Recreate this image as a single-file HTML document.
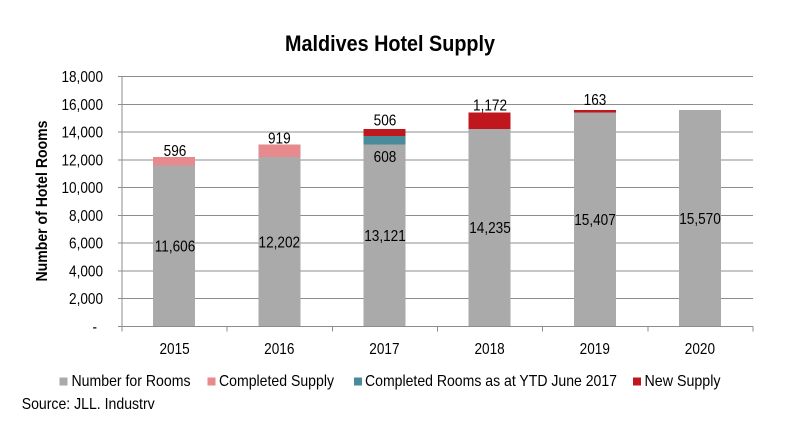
<!DOCTYPE html>
<html>
<head>
<meta charset="utf-8">
<style>
  html, body { margin: 0; padding: 0; background: #ffffff; }
  svg { display: block; }
  text { font-family: "Liberation Sans", Arial, sans-serif; fill: #000; }
</style>
</head>
<body>
<svg width="789" height="443" viewBox="0 0 789 443" xmlns="http://www.w3.org/2000/svg">
  <rect x="0" y="0" width="789" height="443" fill="#ffffff"/>

  <!-- Title -->
  <text x="390" y="51" font-size="22" font-weight="bold" text-anchor="middle" textLength="210" lengthAdjust="spacingAndGlyphs">Maldives Hotel Supply</text>

  <!-- Gridlines -->
  <g stroke="#8c8c8c" stroke-width="1" shape-rendering="crispEdges">
    <line x1="118" y1="76.5" x2="753" y2="76.5"/>
    <line x1="118" y1="104.3" x2="753" y2="104.3"/>
    <line x1="118" y1="132.1" x2="753" y2="132.1"/>
    <line x1="118" y1="159.8" x2="753" y2="159.8"/>
    <line x1="118" y1="187.6" x2="753" y2="187.6"/>
    <line x1="118" y1="215.4" x2="753" y2="215.4"/>
    <line x1="118" y1="243.2" x2="753" y2="243.2"/>
    <line x1="118" y1="270.9" x2="753" y2="270.9"/>
    <line x1="118" y1="298.7" x2="753" y2="298.7"/>
  </g>

  <!-- Bars -->
  <g shape-rendering="crispEdges">
    <!-- 2015 -->
    <rect x="153.1" y="165.3" width="42" height="161.2" fill="#aaaaaa"/>
    <rect x="153.1" y="157.0" width="42" height="8.3" fill="#e68a8e"/>
    <!-- 2016 -->
    <rect x="258.3" y="157.0" width="42" height="169.5" fill="#aaaaaa"/>
    <rect x="258.3" y="144.3" width="42" height="12.7" fill="#e68a8e"/>
    <!-- 2017 -->
    <rect x="363.4" y="144.3" width="42" height="182.2" fill="#aaaaaa"/>
    <rect x="363.4" y="135.8" width="42" height="8.5" fill="#4a8b9b"/>
    <rect x="363.4" y="128.8" width="42" height="7.0" fill="#c0171f"/>
    <!-- 2018 -->
    <rect x="468.6" y="128.8" width="42" height="197.7" fill="#aaaaaa"/>
    <rect x="468.6" y="112.5" width="42" height="16.3" fill="#c0171f"/>
    <!-- 2019 -->
    <rect x="573.8" y="112.5" width="42" height="214.0" fill="#aaaaaa"/>
    <rect x="573.8" y="110.2" width="42" height="2.3" fill="#c0171f"/>
    <!-- 2020 -->
    <rect x="678.9" y="110.2" width="42" height="216.3" fill="#aaaaaa"/>
  </g>

  <!-- Axes -->
  <g stroke="#8c8c8c" stroke-width="1" shape-rendering="crispEdges">
    <line x1="122" y1="76.5" x2="122" y2="326.5"/>
    <line x1="118" y1="326.5" x2="753" y2="326.5"/>
    <line x1="122" y1="326.5" x2="122" y2="331.5"/>
    <line x1="227.2" y1="326.5" x2="227.2" y2="331.5"/>
    <line x1="332.3" y1="326.5" x2="332.3" y2="331.5"/>
    <line x1="437.5" y1="326.5" x2="437.5" y2="331.5"/>
    <line x1="542.7" y1="326.5" x2="542.7" y2="331.5"/>
    <line x1="647.8" y1="326.5" x2="647.8" y2="331.5"/>
    <line x1="753" y1="326.5" x2="753" y2="331.5"/>
  </g>

  <!-- Y tick labels -->
  <g font-size="16" text-anchor="end">
    <text transform="translate(103,82) scale(0.85,1)">18,000</text>
    <text transform="translate(103,109.8) scale(0.85,1)">16,000</text>
    <text transform="translate(103,137.6) scale(0.85,1)">14,000</text>
    <text transform="translate(103,165.3) scale(0.85,1)">12,000</text>
    <text transform="translate(103,193.1) scale(0.85,1)">10,000</text>
    <text transform="translate(103,220.9) scale(0.85,1)">8,000</text>
    <text transform="translate(103,248.7) scale(0.85,1)">6,000</text>
    <text transform="translate(103,276.4) scale(0.85,1)">4,000</text>
    <text transform="translate(103,304.2) scale(0.85,1)">2,000</text>
    <text transform="translate(97,332) scale(0.85,1)">-</text>
  </g>

  <!-- Y axis title -->
  <text transform="translate(47,201) rotate(-90)" font-size="16" font-weight="bold" text-anchor="middle" textLength="161" lengthAdjust="spacingAndGlyphs">Number of Hotel Rooms</text>

  <!-- X tick labels -->
  <g font-size="16" text-anchor="middle">
    <text transform="translate(174.6,354) scale(0.85,1)">2015</text>
    <text transform="translate(279.3,354) scale(0.85,1)">2016</text>
    <text transform="translate(384.4,354) scale(0.85,1)">2017</text>
    <text transform="translate(489.6,354) scale(0.85,1)">2018</text>
    <text transform="translate(594.8,354) scale(0.85,1)">2019</text>
    <text transform="translate(699.9,354) scale(0.85,1)">2020</text>
  </g>

  <!-- Data labels -->
  <g font-size="16" text-anchor="middle" fill="#111">
    <text transform="translate(175,251.5) scale(0.85,1)">11,606</text>
    <text transform="translate(279.3,247.3) scale(0.85,1)">12,202</text>
    <text transform="translate(385,241) scale(0.85,1)">13,121</text>
    <text transform="translate(490,233.2) scale(0.85,1)">14,235</text>
    <text transform="translate(595,225) scale(0.85,1)">15,407</text>
    <text transform="translate(700,223.8) scale(0.85,1)">15,570</text>

    <text transform="translate(175,156) scale(0.85,1)">596</text>
    <text transform="translate(279.3,143.3) scale(0.85,1)">919</text>
    <text transform="translate(385,125.5) scale(0.85,1)">506</text>
    <text transform="translate(385,162) scale(0.85,1)">608</text>
    <text transform="translate(490,110.5) scale(0.85,1)">1,172</text>
    <text transform="translate(595,105) scale(0.85,1)">163</text>
  </g>

  <!-- Legend -->
  <g shape-rendering="crispEdges">
    <rect x="59.5" y="377.5" width="8" height="8" fill="#aaaaaa"/>
    <rect x="207.5" y="377.5" width="8" height="8" fill="#e68a8e"/>
    <rect x="354" y="377.5" width="8" height="8" fill="#4a8b9b"/>
    <rect x="633" y="377.5" width="8" height="8" fill="#c0171f"/>
  </g>
  <g font-size="16">
    <text x="71.5" y="386" textLength="119" lengthAdjust="spacingAndGlyphs">Number for Rooms</text>
    <text x="219" y="386" textLength="115" lengthAdjust="spacingAndGlyphs">Completed Supply</text>
    <text x="365" y="386" textLength="252" lengthAdjust="spacingAndGlyphs">Completed Rooms as at YTD June 2017</text>
    <text x="644.5" y="386" textLength="76" lengthAdjust="spacingAndGlyphs">New Supply</text>
  </g>

  <!-- Source -->
  <text x="21.7" y="409" font-size="16" textLength="133" lengthAdjust="spacingAndGlyphs">Source: JLL. Industrv</text>
</svg>
</body>
</html>
